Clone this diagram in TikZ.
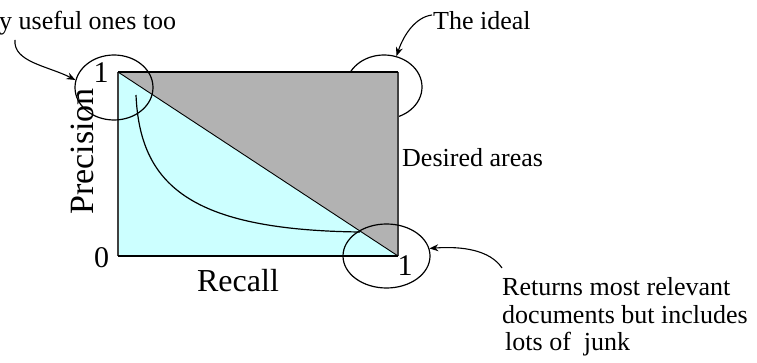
\documentclass[tikz,border=0pt]{standalone}
\usepackage{fontspec}
\setmainfont{Liberation Serif}
\usetikzlibrary{shapes.geometric,arrows.meta}
\definecolor{lcyan}{HTML}{CCFFFF}
\definecolor{mgrey}{HTML}{B2B2B2}
\definecolor{edge}{HTML}{404040}
\begin{document}
\begin{tikzpicture}[x=1pt,y=-1pt,
  oval/.style={ellipse,draw=black,line width=1.2pt,inner sep=0pt},
  lbl/.style={inner sep=0pt,font=\fontsize{26}{27.5}\selectfont},
  num/.style={inner sep=0pt,font=\fontsize{30}{32}\selectfont},
  axlbl/.style={inner sep=0pt,font=\fontsize{32}{34}\selectfont},
  pointer/.style={line width=1.1pt,-{Stealth[length=9pt,width=7pt]}},
  curveline/.style={line width=1.2pt}]
\useasboundingbox (0,0) rectangle (757,363);
% oval hidden partly by the grey area
\node[oval,minimum width=76pt,minimum height=64pt] (e2) at (384,87) {};
% plot area
\coordinate (tl) at (118,72);
\coordinate (tr) at (398,72);
\coordinate (br) at (398,256);
\coordinate (bl) at (118,256);
\fill[lcyan] (tl) -- (bl) -- (br) -- cycle;
\fill[mgrey] (tl) -- (tr) -- (br) -- cycle;
\draw[edge,line width=1.4pt] (tr) -- (br);
\draw[edge,line width=1.4pt] (tl) -- (bl);
\draw[black,line width=1.4pt] (bl) -- (br);
\draw[black,line width=2pt] (tl) -- (tr);
\draw[black,line width=0.9pt] (tl) -- (br);
% curve
\coordinate (cs) at (136,95);
\coordinate (ce) at (360,232);
\draw[curveline] (cs) .. controls (140,185) and (190,230) .. (ce);
% ovals
\node[oval,minimum width=78pt,minimum height=65pt] (e1) at (114,87.5) {};
\node[oval,minimum width=87pt,minimum height=64pt] (e3) at (386.5,256) {};
% axis numbers and labels
\node[num,anchor=base] (one1) at (101,83) {1};
\node[num,anchor=base] (zero) at (101.5,267) {0};
\node[num,anchor=base] (one2) at (405,276) {1};
\node[axlbl,anchor=base] (recall) at (238,291) {Recall};
\node[axlbl,anchor=base,rotate=90,font=\fontsize{34}{36}\selectfont] (prec) at (93,151.5) {Precision};
% annotations
\node[lbl,anchor=base west] (useful) at (-1,30) {y useful ones too};
\node[lbl,anchor=base west] (ideal) at (433,30) {The ideal};
\node[lbl,anchor=base west] (desired) at (402,167) {Desired areas};
\node[lbl,anchor=base west] (ret1) at (502,295) {Returns most relevant};
\node[lbl,anchor=base west] (ret2) at (502,323) {documents but includes};
\node[lbl,anchor=base west] (ret3) at (502,350) {\hspace{3pt}lots of\ \ junk};
% pointers
\coordinate (a1) at (15,40);
\coordinate (a2) at (432,15);
\coordinate (a3) at (502,268);
\draw[pointer] (a1) .. controls (13,62) and (48,66) .. (e1.169);
\draw[pointer] (a2) .. controls (416,17) and (404,34) .. (e2.68);
\draw[pointer] (a3) .. controls (490,250) and (462,246) .. (e3.10);
\end{tikzpicture}
\end{document}
